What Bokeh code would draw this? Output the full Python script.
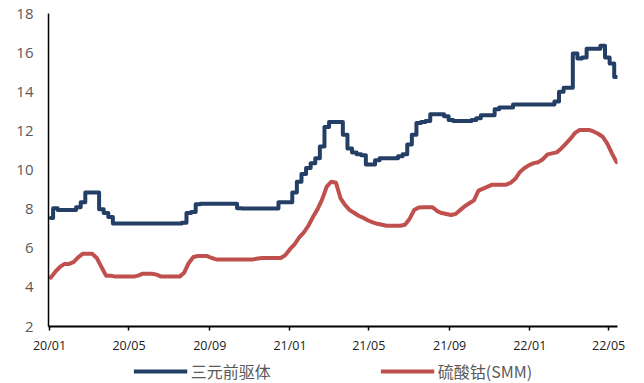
from datetime import datetime, timedelta

from bokeh.embed import file_html
from bokeh.resources import INLINE
from bokeh.layouts import column
from bokeh.plotting import figure
from bokeh.models import (ColumnDataSource, Range1d, FixedTicker, DatetimeTickFormatter,
                          Legend, LegendItem)

# Weekly price series (万元/吨), first quote 2020-01-03
start_date = datetime(2020, 1, 3)

precursor = [
    7.55, 8.05, 7.95, 7.95, 7.95, 7.95, 8.10, 8.35, 8.85, 8.85,
    8.85, 8.00, 7.80, 7.60, 7.27, 7.27, 7.27, 7.27, 7.27, 7.27,
    7.27, 7.27, 7.27, 7.27, 7.27, 7.27, 7.27, 7.27, 7.27, 7.30,
    7.80, 7.85, 8.25, 8.28, 8.28, 8.28, 8.28, 8.28, 8.28, 8.28,
    8.28, 8.05, 8.03, 8.03, 8.03, 8.03, 8.03, 8.03, 8.03, 8.03,
    8.35, 8.35, 8.35, 8.85, 9.40, 9.80, 10.10, 10.35, 10.60, 11.20,
    12.20, 12.45, 12.45, 12.45, 11.80, 11.10, 10.90, 10.80, 10.75, 10.28,
    10.28, 10.50, 10.60, 10.60, 10.60, 10.60, 10.70, 10.80, 11.30, 11.80,
    12.40, 12.45, 12.50, 12.85, 12.85, 12.85, 12.75, 12.55, 12.50, 12.50,
    12.50, 12.50, 12.55, 12.65, 12.80, 12.80, 12.80, 13.10, 13.20, 13.20,
    13.20, 13.35, 13.35, 13.35, 13.35, 13.35, 13.35, 13.35, 13.35, 13.35,
    13.50, 14.00, 14.20, 14.20, 15.95, 15.70, 15.75, 16.20, 16.20, 16.20,
    16.35, 15.75, 15.45, 14.75,
]

cobalt_sulfate = [
    4.50, 4.80, 5.05, 5.20, 5.20, 5.30, 5.55, 5.72, 5.72, 5.72,
    5.50, 5.05, 4.60, 4.60, 4.55, 4.55, 4.55, 4.55, 4.55, 4.60,
    4.70, 4.70, 4.70, 4.65, 4.55, 4.55, 4.55, 4.55, 4.55, 4.75,
    5.25, 5.55, 5.60, 5.60, 5.60, 5.50, 5.43, 5.43, 5.43, 5.43,
    5.43, 5.43, 5.43, 5.43, 5.43, 5.48, 5.50, 5.50, 5.50, 5.50,
    5.50, 5.65, 5.95, 6.20, 6.55, 6.80, 7.15, 7.60, 8.00, 8.50,
    9.15, 9.40, 9.35, 8.55, 8.20, 7.95, 7.80, 7.65, 7.55, 7.42,
    7.32, 7.25, 7.20, 7.15, 7.15, 7.15, 7.15, 7.20, 7.50, 7.95,
    8.08, 8.10, 8.10, 8.10, 7.90, 7.80, 7.75, 7.70, 7.75, 7.95,
    8.15, 8.30, 8.45, 8.95, 9.05, 9.15, 9.25, 9.25, 9.25, 9.25,
    9.35, 9.55, 9.90, 10.10, 10.25, 10.35, 10.40, 10.55, 10.80, 10.85,
    10.90, 11.10, 11.35, 11.60, 11.90, 12.05, 12.05, 12.05, 11.97, 11.85,
    11.70, 11.35, 10.85, 10.40,
]

series_names = ["三元前驱体", "硫酸钴(SMM)"]
series_colors = ["#243F66", "#C0504D"]

tick_months = [(2020, 1), (2020, 5), (2020, 9), (2021, 1),
               (2021, 5), (2021, 9), (2022, 1), (2022, 5)]

dates = [start_date + timedelta(days=7 * i) for i in range(len(precursor))]
source = ColumnDataSource(dict(date=dates, precursor=precursor, cobalt=cobalt_sulfate))

x_start = datetime(2020, 1, 1) - timedelta(hours=36)
x_end = x_start + timedelta(days=866)

p = figure(width=644, height=358, output_backend="svg", toolbar_location=None,
           x_axis_type="datetime",
           x_range=Range1d(x_start, x_end), y_range=Range1d(2, 18),
           min_border_left=48, min_border_right=27, min_border_top=13,
           min_border_bottom=32)
p.outline_line_color = None
p.background_fill_color = "white"
p.border_fill_color = "white"
p.xgrid.visible = False
p.ygrid.visible = False

# the precursor quote moves in discrete steps, cobalt sulfate more gradually
line_style = dict(line_width=4, line_join="round", line_cap="round")
p.step("date", "precursor", source=source, mode="center",
       line_color=series_colors[0], **line_style)
p.line("date", "cobalt", source=source, line_color=series_colors[1], **line_style)

# x axis: month ticks every four months, labelled yy/mm
tick_ms = [datetime(y, m, 1).timestamp() * 1000 for y, m in tick_months]
xa = p.xaxis[0]
xa.ticker = FixedTicker(ticks=tick_ms)
fmt = "%y/%m"
xa.formatter = DatetimeTickFormatter(years=fmt, months=fmt, days=fmt, hours=fmt,
                                     hourmin=fmt, minutes=fmt, minsec=fmt,
                                     seconds=fmt, milliseconds=fmt, microseconds=fmt)
xa.axis_line_color = "black"
xa.axis_line_width = 2
xa.major_tick_line_color = "black"
xa.major_tick_line_width = 1.5
xa.major_tick_out = 4
xa.major_tick_in = 0
xa.minor_tick_line_color = None
xa.major_label_text_font = "Open Sans"
xa.major_label_text_font_size = "12.5px"
xa.major_label_text_color = "#1a1a1a"
xa.major_label_standoff = 6

ya = p.yaxis[0]
ya.ticker = FixedTicker(ticks=list(range(2, 19, 2)))
ya.axis_line_color = "black"
ya.axis_line_width = 1.5
ya.major_tick_line_color = None
ya.minor_tick_line_color = None
ya.major_label_text_font = "Open Sans"
ya.major_label_text_font_size = "15px"
ya.major_label_text_color = "#595959"
ya.major_label_standoff = 9

# legend strip underneath the chart; its own copies of the series lie
# outside its visible y range, so only the legend keys show
lg = figure(width=644, height=25, output_backend="svg", toolbar_location=None,
            x_axis_type="datetime", x_axis_location=None, y_axis_location=None,
            x_range=Range1d(x_start, x_end), y_range=Range1d(100, 101),
            min_border=0, min_border_left=23, outline_line_color=None)
lg.grid.visible = False
k1 = lg.line("date", "precursor", source=source, line_color=series_colors[0], line_width=4)
k2 = lg.line("date", "cobalt", source=source, line_color=series_colors[1], line_width=4)
legend = Legend(items=[LegendItem(label=series_names[0], renderers=[k1]),
                       LegendItem(label=series_names[1], renderers=[k2])],
                orientation="horizontal", location="center",
                glyph_width=54, glyph_height=18, label_standoff=4, spacing=109,
                padding=0, margin=0, border_line_color=None,
                background_fill_alpha=0, label_height=20,
                label_text_font="Noto Sans CJK SC", label_text_font_size="16px",
                label_text_color="#595959")
lg.add_layout(legend, "center")

open("out.html", "w").write(file_html(column(p, lg, spacing=0), INLINE))
